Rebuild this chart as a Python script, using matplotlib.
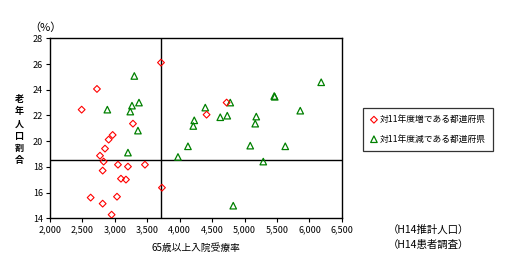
import matplotlib
matplotlib.use("Agg")
import matplotlib.pyplot as plt
from matplotlib.ticker import FuncFormatter

plt.rcParams['font.family'] = ['Noto Sans CJK JP', 'DejaVu Sans']

# Data: (65歳以上入院受療率, 老年人口割合)
inc_x = [3711, 2724, 2488, 3279, 2966, 2904, 2848, 2771, 2827, 3048, 3202,
         3464, 2812, 3094, 3171, 3726, 2627, 3033, 2812, 2950, 4723, 4414]
inc_y = [26.11, 24.06, 22.45, 21.36, 20.48, 20.12, 19.42, 18.87, 18.41, 18.17, 18.02,
         18.17, 17.71, 17.08, 17.01, 16.38, 15.61, 15.68, 15.14, 14.28, 23.0, 22.06]

dec_x = [3300, 3372, 2884, 3264, 3238, 3356, 3202, 4224, 4209, 4127, 3973,
         4394, 4779, 4625, 4733, 5180, 5164, 5457, 5465, 6181, 5858, 5087,
         5627, 5288, 4825]
dec_y = [25.07, 23.0, 22.45, 22.76, 22.30, 20.82, 19.11, 21.62, 21.18, 19.6, 18.77,
         22.61, 23.0, 21.86, 21.98, 21.91, 21.36, 23.51, 23.45, 24.58, 22.37, 19.65,
         19.6, 18.41, 14.98]

ref_x = 3715
ref_y = 18.55

xticks = [2000, 2500, 3000, 3500, 4000, 4500, 5000, 5500, 6000, 6500]
yticks = [14, 16, 18, 20, 22, 24, 26, 28]

label_inc = "対11年度増である都道府県"
label_dec = "対11年度減である都道府県"

fig = plt.figure(figsize=(5.05, 2.57), dpi=100)
ax = fig.add_axes([0.099, 0.1506, 0.578, 0.7004])

ax.scatter(dec_x, dec_y, marker='^', s=22, facecolors='none', edgecolors='#008000',
           linewidths=0.9, label=label_dec, zorder=3)
ax.scatter(inc_x, inc_y, marker='D', s=12, facecolors='none', edgecolors='#ff0000',
           linewidths=0.8, label=label_inc, zorder=4)

ax.axvline(ref_x, color='black', lw=1.0, zorder=2)
ax.axhline(ref_y, color='black', lw=1.0, zorder=2)

ax.set_xlim(2000, 6500)
ax.set_ylim(14, 28)
ax.set_xticks(xticks)
ax.set_yticks(yticks)
ax.xaxis.set_major_formatter(FuncFormatter(lambda v, p: f"{int(v):,}"))
ax.tick_params(axis='both', labelsize=6.5, length=3, width=0.8, direction='out', pad=2)
for s in ax.spines.values():
    s.set_linewidth(1.0)

ax.set_xlabel("65歳以上入院受療率", fontsize=7, labelpad=6)
fig.text(0.038, 0.494, "\n".join("老年人口割合"), fontsize=6.5, ha='center', va='center',
         linespacing=1.45, fontweight='bold')
fig.text(0.09, 0.891, "（%）", fontsize=8, ha='center', va='center')

fig.text(0.848, 0.105, "（H14推計人口）", fontsize=7.5, ha='center', va='center')
fig.text(0.848, 0.047, "（H14患者調査）", fontsize=7.5, ha='center', va='center')

h, l = ax.get_legend_handles_labels()
leg = fig.legend([h[1], h[0]], [l[1], l[0]], loc='center', bbox_to_anchor=(0.848, 0.497),
                 fontsize=6.3, frameon=True, fancybox=False, edgecolor='black',
                 handlelength=0.8, handletextpad=0.3, borderpad=0.8, labelspacing=1.2)
leg.get_frame().set_linewidth(0.9)

fig.savefig("out.png", dpi=100)
